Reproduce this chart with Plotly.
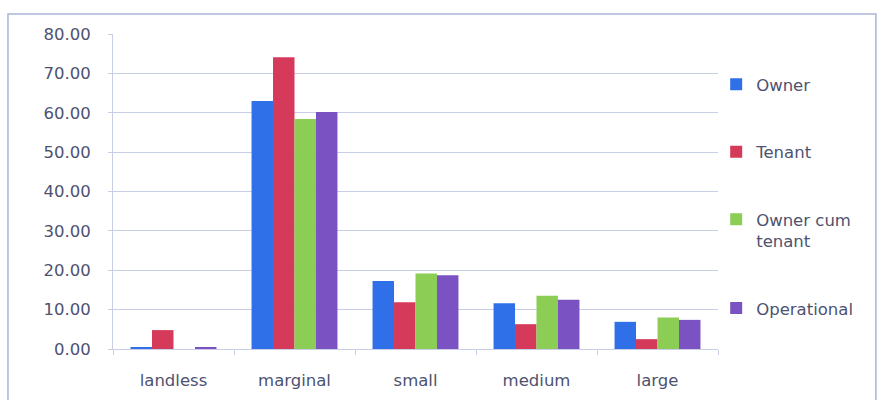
import plotly.graph_objects as go

categories = ["landless", "marginal", "small", "medium", "large"]
owner = [0.5, 63.0, 17.3, 11.6, 6.9]
tenant = [4.8, 74.1, 11.9, 6.3, 2.5]
owner_cum_tenant = [0.0, 58.4, 19.2, 13.5, 8.0]
operational = [0.3, 60.2, 18.7, 12.5, 7.4]
series_names = ["Owner", "Tenant", "Owner cum<br>tenant", "Operational"]
colors = ["#2f6fe8", "#d63a5a", "#8ccd55", "#7a52c2"]
y_ticks = [0, 10, 20, 30, 40, 50, 60, 70, 80]

FONT = "DejaVu Sans"
TXT = "#4d5270"
FS = 16.5

fig = go.Figure()
for i, (name, vals) in enumerate(zip(series_names, [owner, tenant, owner_cum_tenant, operational])):
    fig.add_trace(go.Bar(x=categories, y=vals, name=name, marker_color=colors[i],
                         marker_line_width=0, legendgroup=str(i)))

fig.update_layout(
    width=879, height=400,
    margin=dict(l=113, r=161, t=34, b=51),
    paper_bgcolor="white", plot_bgcolor="white",
    barmode="group", bargap=0.29, bargroupgap=0,
    font=dict(family=FONT, color=TXT, size=FS),
    legend=dict(x=0.997, xanchor="left", y=0.895, yanchor="top",
                font=dict(size=FS, family=FONT, color=TXT),
                tracegroupgap=43, itemwidth=30, valign="top",
                bgcolor="rgba(0,0,0,0)"),
    xaxis=dict(showgrid=False, showline=True, linecolor="#c8cee6", linewidth=1,
               ticks="outside", tickson="boundaries", ticklen=5, tickcolor="#c8cee6",
               ticklabelstandoff=16, automargin=False,
               tickfont=dict(size=FS, family=FONT, color=TXT)),
    yaxis=dict(range=[0, 80], tickvals=y_ticks, ticktext=[f"{v:.2f}" for v in y_ticks],
               showgrid=True, gridcolor="#c8cee6", gridwidth=1,
               showline=True, linecolor="#c8cee6", linewidth=1,
               ticks="outside", ticklen=4, tickcolor="#c8cee6",
               ticklabelstandoff=14, automargin=False,
               zeroline=False,
               tickfont=dict(size=FS, family=FONT, color=TXT)),
    shapes=[dict(type="rect", xref="paper", yref="paper",
                 x0=-0.1736, x1=1.261, y0=-0.2, y1=1.0635,
                 line=dict(color="#a9b4d8", width=1.5), fillcolor="rgba(0,0,0,0)",
                 layer="below")],
)

fig.write_html("out.html")
